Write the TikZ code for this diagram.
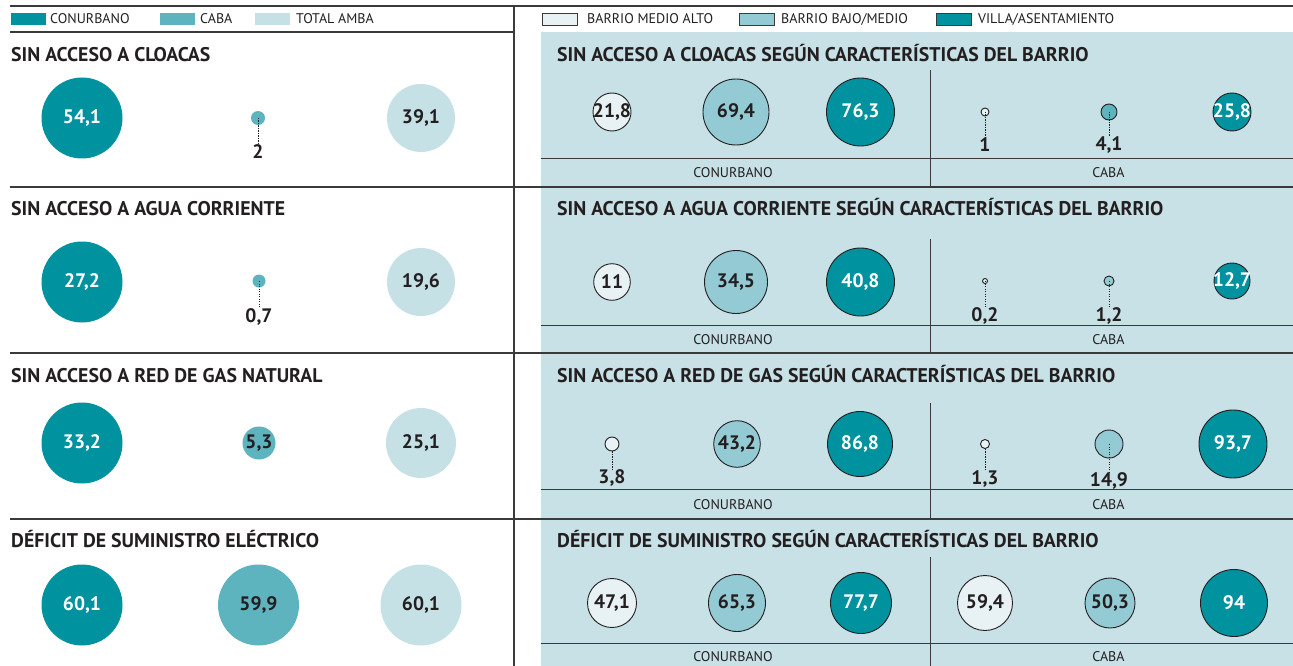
\documentclass[tikz,border=0pt]{standalone}
\usepackage{fontspec}
\setmainfont{PT Sans}
\definecolor{conu}{HTML}{00939F}
\definecolor{caba}{HTML}{5DB3BE}
\definecolor{amba}{HTML}{C5E1E6}
\definecolor{panel}{HTML}{C7E1E6}
\definecolor{alto}{HTML}{E8F2F4}
\definecolor{bajo}{HTML}{93CAD3}
\definecolor{ink}{HTML}{231F20}
\definecolor{rulec}{HTML}{3A3A3A}
\tikzset{
  rulethick/.style={draw=rulec, line width=1.8pt},
  rulethin/.style={draw=rulec, line width=0.9pt},
  ttl/.style={font=\bfseries\fontsize{19.8}{22}\selectfont, text=ink, anchor=base west, inner sep=0pt},
  val/.style={font=\bfseries\fontsize{19.5}{21}\selectfont, text=ink, inner sep=0pt},
  valw/.style={font=\bfseries\fontsize{19.5}{21}\selectfont, text=white, inner sep=0pt},
  leg/.style={font=\fontsize{14}{16}\selectfont, text=ink, anchor=west, inner sep=0pt},
  subl/.style={font=\fontsize{14}{16}\selectfont, text=ink, inner sep=0pt},
  swatch/.style={rectangle, minimum width=35pt, minimum height=12pt, inner sep=0pt},
  bub/.style={circle, inner sep=0pt, draw=none},
  rbub/.style={circle, inner sep=0pt, draw=ink, line width=0.9pt},
  dots/.style={draw=ink, line width=0.8pt, dash pattern=on 1.2pt off 1.3pt}
}
\newcommand{\bubble}[6]{% style, name, x, y, radius, fill
  \node[#1, fill=#6, minimum size=2*#5] (#2) at (#3,#4) {};}
\begin{document}
\begin{tikzpicture}[x=1pt,y=-1pt]
\useasboundingbox (0,0) rectangle (1293,666);
\fill[panel] (541,32) rectangle (1293,666);
% rules
\draw[rulethick] (10,6) -- (1293,6);
\draw[rulethick] (10,32) -- (514,32);
\draw[rulethick] (514,6) -- (514,666);
\foreach \yy in {187,353,519} {\draw[rulethick] (10,\yy) -- (1293,\yy);}
\foreach \yy in {158,325,489,643} {\draw[rulethin] (541,\yy) -- (1293,\yy);}
\draw[rulethin] (930,70) -- (930,187);
\draw[rulethin] (930,239) -- (930,353);
\draw[rulethin] (930,403) -- (930,519);
\draw[rulethin] (930,557) -- (930,666);

% legend left
\node[swatch, fill=conu] (lg1) at (28.5,19) {};
\node[leg] (lt1) at (50,19) {CONURBANO};
\node[swatch, fill=caba] (lg2) at (177.5,19) {};
\node[leg] (lt2) at (200,19) {CABA};
\node[swatch, fill=amba] (lg3) at (272.5,19) {};
\node[leg] (lt3) at (296,19) {TOTAL AMBA};
% legend right
\node[swatch, fill=alto, draw=rulec, line width=0.9pt] (rg1) at (560,19) {};
\node[leg] (rt1) at (587,19) {BARRIO MEDIO ALTO};
\node[swatch, fill=bajo, draw=rulec, line width=0.9pt] (rg2) at (757,19) {};
\node[leg] (rt2) at (781,19) {BARRIO BAJO/MEDIO};
\node[swatch, fill=conu, draw=rulec, line width=0.9pt] (rg3) at (954,19) {};
\node[leg] (rt3) at (978,19) {VILLA/ASENTAMIENTO};

% titles
\node[ttl] (t1l) at (11,62) {SIN ACCESO A CLOACAS};
\node[ttl] (t2l) at (11,215) {SIN ACCESO A AGUA CORRIENTE};
\node[ttl] (t3l) at (11,382) {SIN ACCESO A RED DE GAS NATURAL};
\node[ttl] (t4l) at (11,547) {DÉFICIT DE SUMINISTRO ELÉCTRICO};
\node[ttl] (t1r) at (557,62) {SIN ACCESO A CLOACAS SEGÚN CARACTERÍSTICAS DEL BARRIO};
\node[ttl] (t2r) at (557,215) {SIN ACCESO A AGUA CORRIENTE SEGÚN CARACTERÍSTICAS DEL BARRIO};
\node[ttl] (t3r) at (557,382) {SIN ACCESO A RED DE GAS SEGÚN CARACTERÍSTICAS DEL BARRIO};
\node[ttl] (t4r) at (557,547) {DÉFICIT DE SUMINISTRO SEGÚN CARACTERÍSTICAS DEL BARRIO};

% sub labels
\foreach \yy/\n in {173/1,340/2,505/3,657/4} {
  \node[subl] (sc\n) at (733,\yy) {CONURBANO};
  \node[subl] (sk\n) at (1108.5,\yy) {CABA};
}

% ---------- left panel ----------
\bubble{bub}{a11}{82}{118}{40.5}{conu}
\node[valw] at (a11) {54,1};
\bubble{bub}{a12}{258}{118}{7}{caba}
\node[val] (v12) at (258,152) {2};
\draw[dots] (a12.center) -- (v12.north);
\bubble{bub}{a13}{421}{118}{34}{amba}
\node[val] at (a13) {39,1};

\bubble{bub}{a21}{82}{282}{40.5}{conu}
\node[valw] at (a21) {27,2};
\bubble{bub}{a22}{259}{281}{6.5}{caba}
\node[val] (v22) at (259,317) {0,7};
\draw[dots] (a22.center) -- (v22.north);
\bubble{bub}{a23}{421}{282}{34}{amba}
\node[val] at (a23) {19,6};

\bubble{bub}{a31}{82}{443}{40.5}{conu}
\node[valw] at (a31) {33,2};
\bubble{bub}{a32}{259}{443}{16.5}{caba}
\node[val] at (a32) {5,3};
\bubble{bub}{a33}{421}{443}{35}{amba}
\node[val] at (a33) {25,1};

\bubble{bub}{a41}{82}{605}{40.5}{conu}
\node[valw] at (a41) {60,1};
\bubble{bub}{a42}{258.5}{605}{40.5}{caba}
\node[val] at (a42) {59,9};
\bubble{bub}{a43}{421}{605}{40.5}{amba}
\node[val] at (a43) {60,1};

% ---------- right panel ----------
% row 1
\bubble{rbub}{b11}{612}{112}{19}{alto}
\node[val] at (b11) {21,8};
\bubble{rbub}{b12}{736}{112}{33}{bajo}
\node[val] at (b12) {69,4};
\bubble{rbub}{b13}{860.5}{112}{34}{conu}
\node[valw] at (b13) {76,3};
\bubble{rbub}{b14}{985}{112}{4}{alto}
\node[val] (w14) at (985,145) {1};
\draw[dots] (b14.center) -- (w14.north);
\bubble{rbub}{b15}{1109}{112}{8}{caba}
\node[val] (w15) at (1109,145) {4,1};
\draw[dots] (b15.center) -- (w15.north);
\bubble{rbub}{b16}{1232}{112}{19}{conu}
\node[valw] at (b16) {25,8};

% row 2
\bubble{rbub}{b21}{612}{282}{18.3}{alto}
\node[val] at (b21) {11};
\bubble{rbub}{b22}{736}{282}{31.5}{bajo}
\node[val] at (b22) {34,5};
\bubble{rbub}{b23}{860.5}{282}{34}{conu}
\node[valw] at (b23) {40,8};
\bubble{rbub}{b24}{985}{281}{2.5}{alto}
\node[val] (w24) at (985,316) {0,2};
\draw[dots] (b24.center) -- (w24.north);
\bubble{rbub}{b25}{1109}{281}{5}{bajo}
\node[val] (w25) at (1109,316) {1,2};
\draw[dots] (b25.center) -- (w25.north);
\bubble{rbub}{b26}{1232}{281}{18}{conu}
\node[valw] at (b26) {12,7};

% row 3
\bubble{rbub}{b31}{612}{444}{7}{alto}
\node[val] (w31) at (612,478) {3,8};
\draw[dots] (b31.south) -- (w31.north);
\bubble{rbub}{b32}{737}{444}{23.3}{bajo}
\node[val] at (b32) {43,2};
\bubble{rbub}{b33}{860}{444}{32.5}{conu}
\node[valw] at (b33) {86,8};
\bubble{rbub}{b34}{985}{444}{4.5}{alto}
\node[val] (w34) at (985,479) {1,3};
\draw[dots] (b34.south) -- (w34.north);
\bubble{rbub}{b35}{1109}{444}{14}{bajo}
\node[val] (w35) at (1109,481) {14,9};
\draw[dots] (b35.center) -- (w35.north);
\bubble{rbub}{b36}{1233}{444}{34}{conu}
\node[valw] at (b36) {93,7};

% row 4
\bubble{rbub}{b41}{612}{603}{24.5}{alto}
\node[val] at (b41) {47,1};
\bubble{rbub}{b42}{737}{603}{28.5}{bajo}
\node[val] at (b42) {65,3};
\bubble{rbub}{b43}{861}{603}{30.5}{conu}
\node[valw] at (b43) {77,7};
\bubble{rbub}{b44}{985}{603}{27.5}{alto}
\node[val] at (b44) {59,4};
\bubble{rbub}{b45}{1110}{603}{25}{bajo}
\node[val] at (b45) {50,3};
\bubble{rbub}{b46}{1234}{603}{33.5}{conu}
\node[valw] at (b46) {94};
\end{tikzpicture}
\end{document}
